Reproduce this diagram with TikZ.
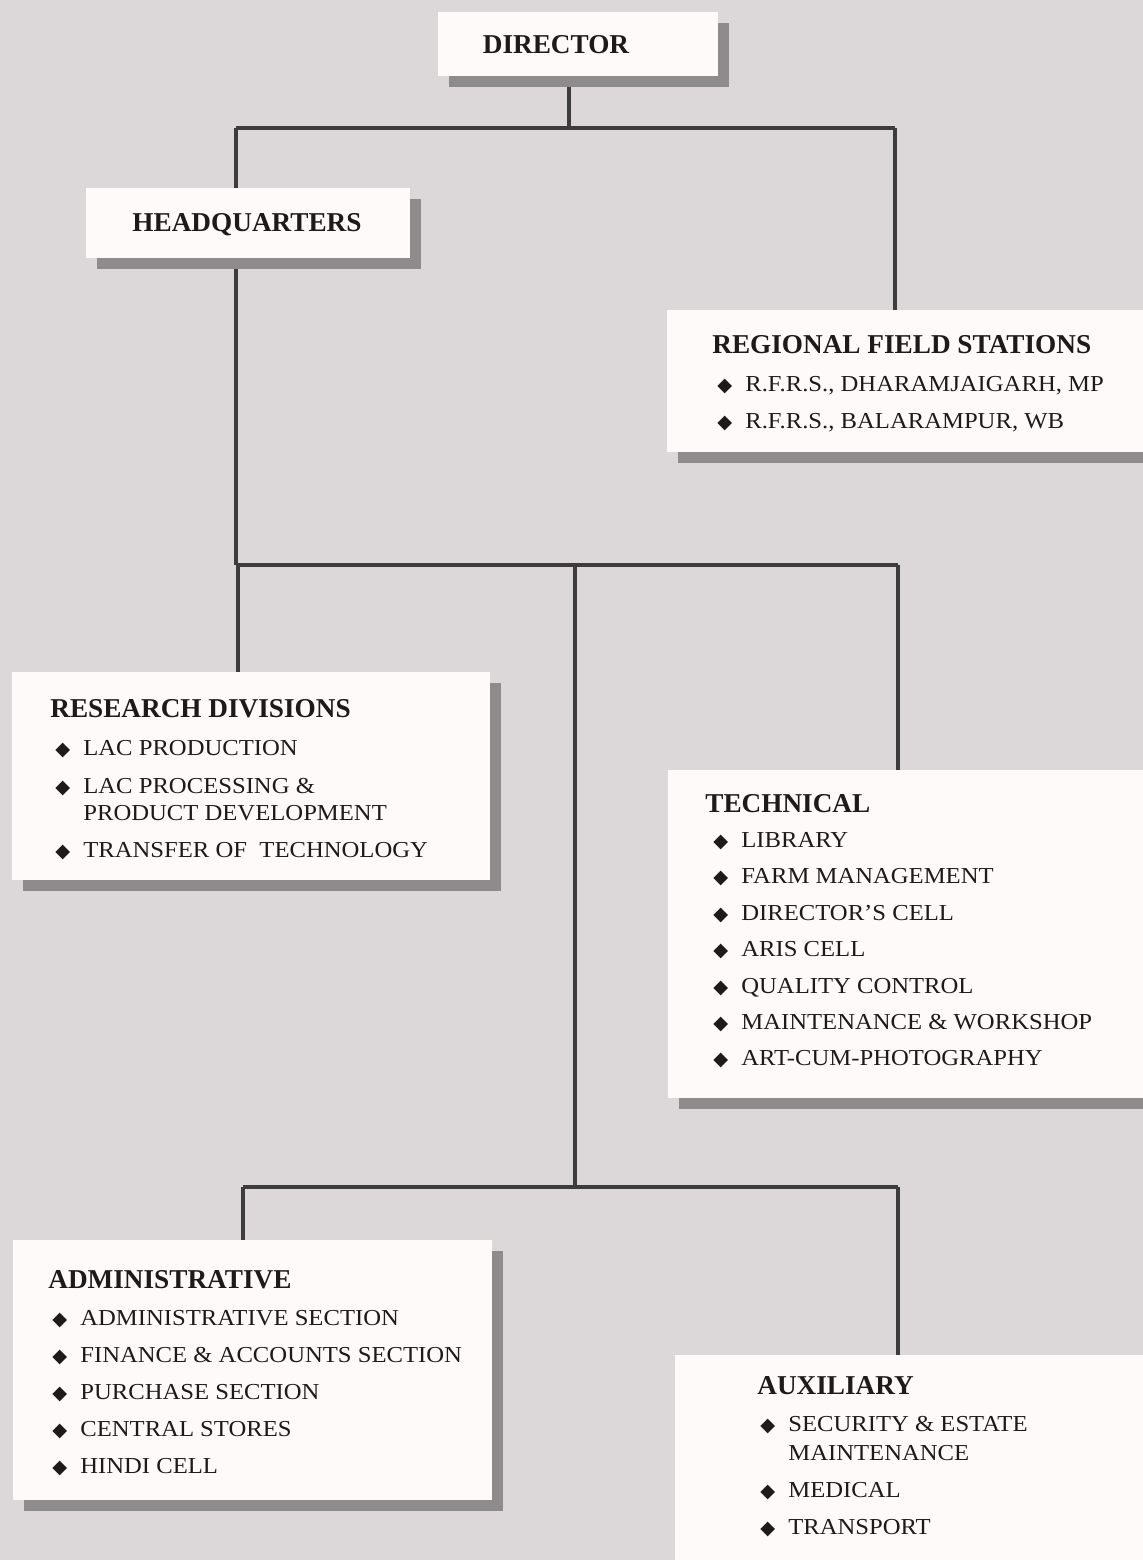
\documentclass[tikz,border=0pt]{standalone}
\usepackage{fontspec}
\setmainfont{Liberation Serif}[FakeStretch=1.08]
\newfontfamily\headfont{Liberation Serif}
\newfontfamily\symfont{DejaVu Sans}
\usetikzlibrary{positioning,shadows,backgrounds}
\definecolor{pagebg}{HTML}{DCD8DA}
\definecolor{boxfill}{HTML}{FDFAF9}
\definecolor{shade}{HTML}{8D8B8C}
\definecolor{linkgray}{HTML}{3C3C3C}
\definecolor{ink}{HTML}{1C1A1B}
\newcommand{\itm}[1]{\makebox[0.56cm][l]{\fontsize{11}{11}\symfont ◆}#1}
\newcommand{\hang}[1]{\hspace*{0.56cm}#1}

\begin{document}
\begin{tikzpicture}[x=0.02cm,y=-0.02cm,
  box/.style={fill=boxfill,inner sep=0,anchor=north west,
    drop shadow={shadow xshift=0.22cm,shadow yshift=-0.22cm,fill=shade,opacity=1}},
  title/.style={ink,font=\headfont\bfseries\fontsize{15.5}{18}\selectfont,anchor=base west,inner sep=0},
  item/.style={ink,font=\fontsize{13}{15}\selectfont,anchor=base west,inner sep=0},
  link/.style={linkgray,line width=2.2pt}]
  \useasboundingbox (0,0) rectangle (1143,1560);
  \begin{scope}[on background layer]
    \fill[pagebg] (0,0) rectangle (1143,1560);
  \end{scope}

  \node[box,minimum width=5.6cm,minimum height=1.28cm] (dir) at (438,12) {};
  \node[box,minimum width=6.48cm,minimum height=1.4cm] (hq) at (86,188) {};
  \node[box,minimum width=9.86cm,minimum height=2.84cm] (rfs) at (667,310) {};
  \node[box,minimum width=9.56cm,minimum height=4.16cm] (res) at (12,672) {};
  \node[box,minimum width=9.84cm,minimum height=6.56cm] (tech) at (668,770) {};
  \node[box,minimum width=9.58cm,minimum height=5.2cm] (adm) at (13,1240) {};
  \node[box,minimum width=9.7cm,minimum height=4.4cm] (aux) at (675,1355) {};

  \node[title,anchor=center] (dirT) at (556,45) {DIRECTOR};
  \node[title,anchor=center] (hqT) at (247,225) {HEADQUARTERS};

  \node[title] (rfsT) at (712,353) {REGIONAL FIELD STATIONS};
  \node[item] (rfs1) at (717,391.5) {\itm{R.F.R.S., DHARAMJAIGARH, MP}};
  \node[item] (rfs2) at (717,428.5) {\itm{R.F.R.S., BALARAMPUR, WB}};

  \node[title] (resT) at (50,717) {RESEARCH DIVISIONS};
  \foreach \y/\t [count=\i] in {755.5/\itm{LAC PRODUCTION},793.5/\itm{LAC PROCESSING \&},
      820.5/\hang{PRODUCT DEVELOPMENT},857.5/\itm{TRANSFER OF~ TECHNOLOGY}}
    \node[item] (res\i) at (55,\y) {\t};

  \node[title] (techT) at (705,812) {TECHNICAL};
  \foreach \t [count=\i] in {LIBRARY,FARM MANAGEMENT,DIRECTOR’S CELL,ARIS CELL,
      QUALITY CONTROL,MAINTENANCE \& WORKSHOP,ART-CUM-PHOTOGRAPHY}
    \node[item] (tech\i) at (713,{811.1+36.4*\i}) {\itm{\t}};

  \node[title] (admT) at (48,1288) {ADMINISTRATIVE};
  \foreach \t [count=\i] in {ADMINISTRATIVE SECTION,FINANCE \& ACCOUNTS SECTION,
      PURCHASE SECTION,CENTRAL STORES,HINDI CELL}
    \node[item] (adm\i) at (52,{1288.5+37*\i}) {\itm{\t}};

  \node[title] (auxT) at (757,1394) {AUXILIARY};
  \foreach \y/\t [count=\i] in {1431.5/\itm{SECURITY \& ESTATE},1460.5/\hang{MAINTENANCE},
      1497.5/\itm{MEDICAL},1534.5/\itm{TRANSPORT}}
    \node[item] (aux\i) at (760,\y) {\t};

  \coordinate (top) at (569,128);
  \coordinate (topL) at (236,128);
  \coordinate (topR) at (895,128);
  \coordinate (midL) at (238,565);
  \coordinate (mid) at (575,565);
  \coordinate (midR) at (898,565);
  \coordinate (lowL) at (243,1187);
  \coordinate (low) at (577,1187);
  \coordinate (lowR) at (898,1187);

  \begin{scope}[on background layer]
    \draw[link] (dir.south -| top) -- (top);
    \draw[link] (topL) -- (topR);
    \draw[link] (topL) -- (topL |- midL);
    \draw[link] (topR) -- (topR |- rfs.north);
    \draw[link] (midL) -- (midR);
    \draw[link] (midL) -- (midL |- res.north);
    \draw[link] (midR) -- (midR |- tech.north);
    \draw[link] (mid) -- (mid |- low);
    \draw[link] (lowL) -- (lowR);
    \draw[link] (lowL) -- (lowL |- adm.north);
    \draw[link] (lowR) -- (lowR |- aux.north);
  \end{scope}
\end{tikzpicture}
\end{document}
